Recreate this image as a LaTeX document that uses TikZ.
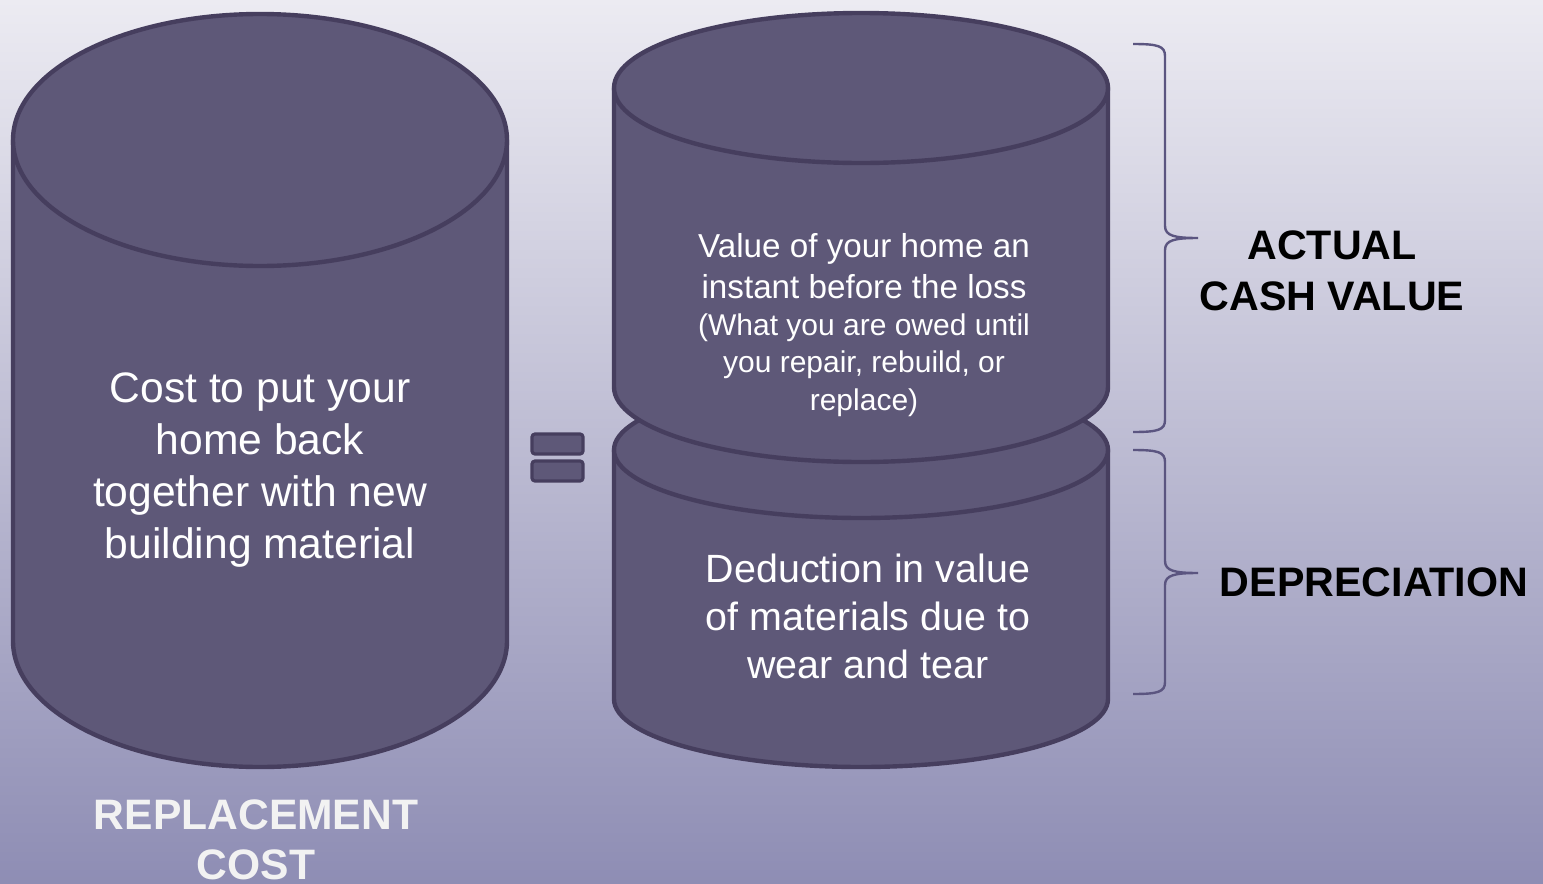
\documentclass[tikz,border=0pt]{standalone}
\usepackage{fontspec}
\setmainfont{Liberation Sans}
\definecolor{bgtop}{HTML}{ECEBF2}
\definecolor{bgbot}{HTML}{8E8DB4}
\definecolor{cylfill}{HTML}{5E5878}
\definecolor{cylline}{HTML}{463E5E}
\definecolor{bracecol}{HTML}{5B5580}
\definecolor{lighttext}{HTML}{F2F2F2}
\begin{document}
\begin{tikzpicture}[x=0.5pt,y=-0.5pt,
  cyl/.style={fill=cylfill,draw=cylline,line width=2.2pt,line join=round},
  brace/.style={draw=bracecol,line width=1.2pt},
  eqbar/.style={fill=cylfill,draw=cylline,line width=1.6pt,rounded corners=1.5pt},
  intext/.style={text=white,align=center},
  label/.style={font=\bfseries\fontsize{20.6}{25.5}\selectfont,align=center}]
\useasboundingbox (0,0) rectangle (1543,884);
\shade[top color=bgtop,bottom color=bgbot] (0,0) rectangle (1543,884);
% left cylinder
\filldraw[cyl] (13,140) -- (13,641) arc[start angle=180,end angle=0,x radius=247,y radius=126] -- (507,140) -- cycle;
\filldraw[cyl] (260,140) ellipse [x radius=247,y radius=126];
% right bottom cylinder
\filldraw[cyl] (614,450) -- (614,699) arc[start angle=180,end angle=0,x radius=247,y radius=68] -- (1108,450) -- cycle;
\filldraw[cyl] (861,450) ellipse [x radius=247,y radius=68];
% right top cylinder
\filldraw[cyl] (614,88) -- (614,387) arc[start angle=180,end angle=0,x radius=247,y radius=75] -- (1108,88) -- cycle;
\filldraw[cyl] (861,88) ellipse [x radius=247,y radius=75];
% equals sign
\filldraw[eqbar] (532,434) rectangle (583,454);
\filldraw[eqbar] (532,461) rectangle (583,481);
% braces
\draw[brace] (1133,44) .. controls (1158,44) and (1165,46) .. (1165,56) -- (1165,226) .. controls (1165,236) and (1175,238) .. (1198,238) .. controls (1175,238) and (1165,240) .. (1165,250) -- (1165,420) .. controls (1165,430) and (1158,432) .. (1133,432);
\draw[brace] (1133,450) .. controls (1158,450) and (1165,452) .. (1165,462) -- (1165,561) .. controls (1165,571) and (1175,573) .. (1198,573) .. controls (1175,573) and (1165,575) .. (1165,585) -- (1165,682) .. controls (1165,692) and (1158,694) .. (1133,694);
% texts
\node[intext,font=\fontsize{21.3}{26}\selectfont] (lefttext) at (260,470) {Cost to put your\\home back\\together with new\\building material};
\node[intext,font=\fontsize{16.6}{20.5}\selectfont] (acvtext) at (864,266) {Value of your home an\\instant before the loss};
\node[intext,font=\fontsize{15}{18.7}\selectfont] (owedtext) at (864,365) {(What you are owed until\\you repair, rebuild, or\\replace)};
\node[intext,font=\fontsize{19.7}{24}\selectfont] (deptext) at (868,616) {Deduction in value\\of materials due to\\wear and tear};
\node[label] (acv) at (1332,271) {ACTUAL\\CASH VALUE};
\node[label] (dep) at (1374,582) {DEPRECIATION};
\node[label,text=lighttext,font=\bfseries\fontsize{21.3}{25}\selectfont] (rc) at (256,840) {REPLACEMENT\\COST};
\end{tikzpicture}
\end{document}
